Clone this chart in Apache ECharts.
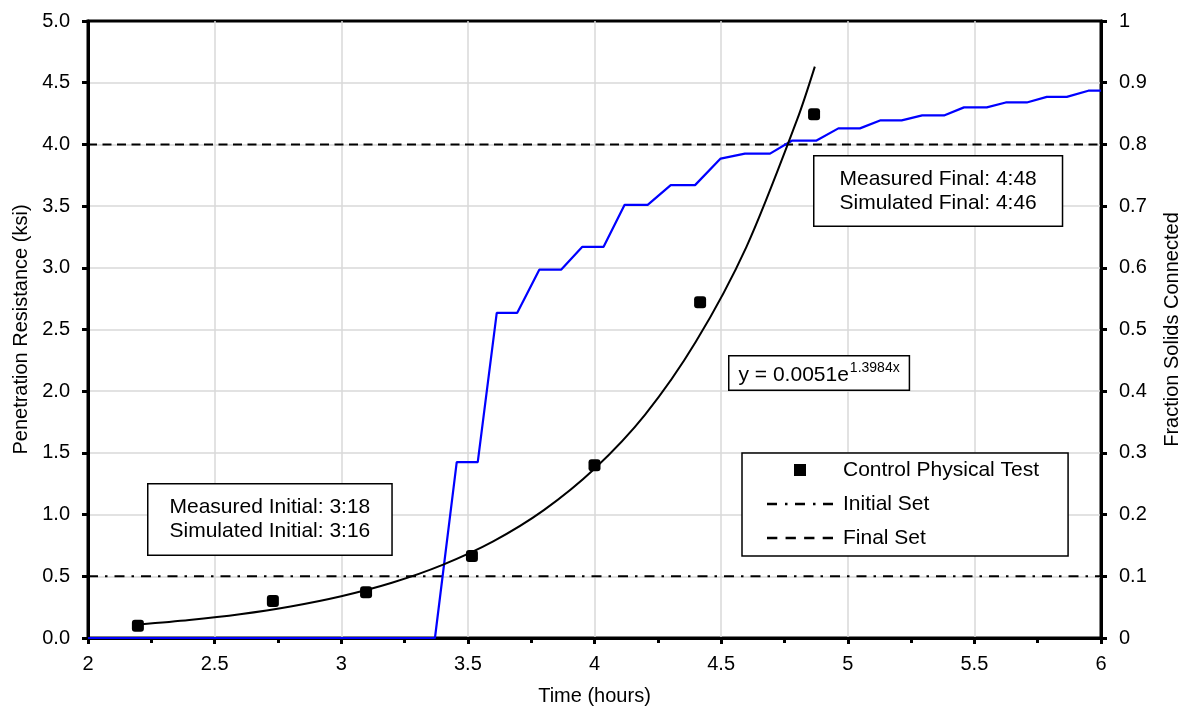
<!DOCTYPE html>
<html>
<head>
<meta charset="utf-8">
<script src="https://cdn.jsdelivr.net/npm/echarts@6/dist/echarts.min.js"></script>
<style>html,body{margin:0;padding:0;background:#fff}#c{width:1182px;height:706px}</style>
</head>
<body>
<div id="c"></div>
<script>
// Measured penetration resistance (ksi) vs time (hours)
const testTime = [2.197, 2.730, 3.098, 3.516, 4.000, 4.417, 4.867];
const testResistance = [0.10, 0.30, 0.37, 0.665, 1.40, 2.72, 4.245];

// Exponential trendline
const trendTime = [2.2, 2.4, 2.6, 2.8, 3.0, 3.2, 3.4, 3.6, 3.8, 4.0, 4.2, 4.4, 4.6, 4.8, 4.87];
const trendResistance = [0.11, 0.146, 0.193, 0.256, 0.339, 0.448, 0.593, 0.783, 1.036, 1.371, 1.81, 2.40, 3.17, 4.20, 4.63];

// Simulated fraction solids connected (right axis)
const simTime = [2, 3.37, 3.456, 3.539, 3.614, 3.695, 3.782, 3.868, 3.952, 4.036, 4.119, 4.210, 4.301, 4.397, 4.498, 4.594, 4.693, 4.779, 4.875, 4.963, 5.048, 5.130, 5.213, 5.294, 5.380, 5.459, 5.549, 5.624, 5.707, 5.786, 5.865, 5.950, 6.0];
const simFraction = [0, 0, 0.285, 0.285, 0.527, 0.527, 0.597, 0.597, 0.634, 0.634, 0.702, 0.702, 0.734, 0.734, 0.777, 0.785, 0.785, 0.806, 0.806, 0.826, 0.826, 0.839, 0.839, 0.847, 0.847, 0.860, 0.860, 0.868, 0.868, 0.877, 0.877, 0.887, 0.887];

// Set thresholds (ksi)
const initialSet = 0.5;
const finalSet = 4.0;
const xRange = [2, 6];

// Annotation texts
const initialText = 'Measured Initial: 3:18\nSimulated Initial: 3:16';
const finalText = 'Measured Final: 4:48\nSimulated Final: 4:46';
const eqBase = 'y = 0.0051e';
const eqExp = '1.3984x';

const FONT = 'Liberation Sans, Arial, sans-serif';
const zip = (a, b) => a.map((v, i) => [v, b[i]]);

const chart = echarts.init(document.getElementById('c'), null, {renderer: 'canvas'});
chart.setOption({
  animation: false,
  backgroundColor: '#fff',
  grid: {left: 88, right: 81, top: 21, bottom: 68, outerBoundsMode: 'none', containLabel: false,
         show: true, borderColor: '#000', borderWidth: 3, backgroundColor: 'transparent'},
  xAxis: {
    type: 'value', min: 2, max: 6, interval: 0.5,
    name: 'Time (hours)', nameLocation: 'middle', nameGap: 48,
    nameTextStyle: {fontFamily: FONT, fontSize: 20, color: '#000'},
    axisLine: {show: true, lineStyle: {color: '#000', width: 3}},
    axisTick: {show: true, inside: false, length: 6, lineStyle: {color: '#000', width: 3}},
    minorTick: {show: true, splitNumber: 2, length: 5, lineStyle: {color: '#000', width: 3}},
    axisLabel: {fontFamily: FONT, fontSize: 20, color: '#000', margin: 16},
    splitLine: {show: true, showMinLine: false, showMaxLine: false, lineStyle: {color: '#d9d9d9', width: 1.5}}
  },
  yAxis: [{
    type: 'value', min: 0, max: 5, interval: 0.5,
    name: 'Penetration Resistance (ksi)', nameLocation: 'middle', nameGap: 57,
    nameTextStyle: {fontFamily: FONT, fontSize: 20, color: '#000'},
    axisLine: {show: true, lineStyle: {color: '#000', width: 3}},
    axisTick: {show: true, inside: false, length: 6, lineStyle: {color: '#000', width: 3}},
    axisLabel: {fontFamily: FONT, fontSize: 20, color: '#000', margin: 18, formatter: v => v.toFixed(1)},
    splitLine: {show: true, showMinLine: false, showMaxLine: false, lineStyle: {color: '#d9d9d9', width: 1.5}}
  }, {
    type: 'value', min: 0, max: 1, interval: 0.1, position: 'right',
    name: 'Fraction Solids Connected', nameLocation: 'middle', nameGap: 61,
    nameRotate: 90,
    nameTextStyle: {fontFamily: FONT, fontSize: 20, color: '#000'},
    axisLine: {show: true, lineStyle: {color: '#000', width: 3}},
    axisTick: {show: true, inside: false, length: 6, lineStyle: {color: '#000', width: 3}},
    axisLabel: {fontFamily: FONT, fontSize: 20, color: '#000', margin: 18, formatter: v => String(Math.round(v * 10) / 10)},
    splitLine: {show: false}
  }],
  legend: {
    orient: 'vertical', left: 742, top: 453,
    padding: [6, 29, 7, 25], itemGap: 12,
    backgroundColor: '#fff', borderColor: '#000', borderWidth: 1.5,
    itemWidth: 66, itemHeight: 12,
    textStyle: {fontFamily: FONT, fontSize: 21, lineHeight: 22, color: '#000', padding: [0, 0, 0, 5]},
    data: [
      {name: 'Control Physical Test', icon: 'path://M27,0 L39,0 L39,12 L27,12 Z'},
      {name: 'Initial Set', icon: 'path://M0,0 h10 v2.5 h-10 Z M18,0 h2.5 v2.5 h-2.5 Z M28,0 h10 v2.5 h-10 Z M46,0 h2.5 v2.5 h-2.5 Z M56,0 h10 v2.5 h-10 Z'},
      {name: 'Final Set', icon: 'path://M0,0 h10 v2.5 h-10 Z M18,0 h10 v2.5 h-10 Z M36,0 h10 v2.5 h-10 Z M54,0 h10 v2.5 h-10 Z'}
    ]
  },
  series: [
    {
      name: 'Simulated', type: 'line', yAxisIndex: 1, data: zip(simTime, simFraction),
      showSymbol: false, symbol: 'none', lineStyle: {color: '#0000ff', width: 2.2}, z: 3
    },
    {
      name: 'Initial Set', type: 'line', data: xRange.map(x => [x, initialSet]),
      symbol: 'none', color: '#000', lineStyle: {color: '#000', width: 2, type: [10, 7, 2.5, 7]}, z: 2
    },
    {
      name: 'Final Set', type: 'line', data: xRange.map(x => [x, finalSet]),
      symbol: 'none', color: '#000', lineStyle: {color: '#000', width: 2, type: [9, 5.5]}, z: 2
    },
    {
      name: 'Trendline', type: 'line', data: zip(trendTime, trendResistance),
      symbol: 'none', smooth: 0.3, lineStyle: {color: '#000', width: 2}, z: 4
    },
    {
      name: 'Control Physical Test', type: 'scatter', data: zip(testTime, testResistance),
      symbol: 'roundRect', symbolSize: 12, color: '#000', itemStyle: {color: '#000', opacity: 1}, z: 5
    }
  ],
  graphic: [
    {
      type: 'text', left: 147, top: 483, z: 10,
      style: {
        text: initialText, font: '21px ' + FONT, fill: '#000',
        align: 'center', lineHeight: 24, backgroundColor: '#fff', borderColor: '#000', borderWidth: 1.5,
        padding: [11, 21, 11, 21]
      }
    },
    {
      type: 'text', left: 813, top: 155, z: 10,
      style: {
        text: finalText, font: '21px ' + FONT, fill: '#000',
        align: 'center', lineHeight: 23.5, backgroundColor: '#fff', borderColor: '#000', borderWidth: 1.5,
        padding: [11, 25, 11, 25]
      }
    },
    {
      type: 'text', left: 728, top: 355, z: 10,
      style: {
        text: '{b|' + eqBase + '}{s|' + eqExp + '}', fill: '#000',
        backgroundColor: '#fff', borderColor: '#000', borderWidth: 1.5, padding: [5, 9, 4, 9],
        rich: {
          b: {font: '21px ' + FONT, fill: '#000', lineHeight: 24, verticalAlign: 'bottom'},
          s: {font: '14px ' + FONT, fill: '#000', lineHeight: 24, verticalAlign: 'top', padding: [0, 0, 10, 1]}
        }
      }
    }
  ]
});
</script>
</body>
</html>
